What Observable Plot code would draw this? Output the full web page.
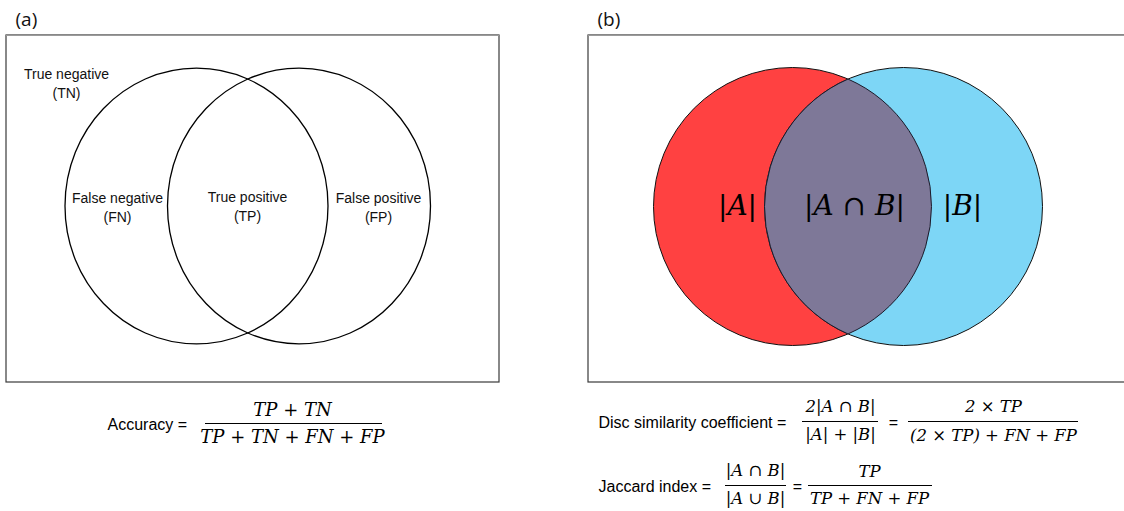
<!DOCTYPE html>
<html>
<head>
<meta charset="utf-8">
<script src="https://cdn.jsdelivr.net/npm/d3@7"></script>
<script src="https://cdn.jsdelivr.net/npm/@observablehq/plot@0.6"></script>
<style>
  body { margin: 0; background: #fff; }
</style>
</head>
<body>
<div id="chart"></div>
<script>
// ---------- data (text content) ----------
const panelLabels = ["(a)", "(b)"];
const regionLabels = ["True negative\n(TN)", "False negative\n(FN)", "True positive\n(TP)", "False positive\n(FP)"];
const setNames = ["A", "B"];
const setColors = ["#ff4141", "#7dd6f6"];
const overlapColor = "#7e7898";
const setLabels = ["|A|", "|A ∩ B|", "|B|"];
const accuracyText = ["Accuracy =", "TP + TN", "TP + TN + FN + FP"];
const diceText = ["Disc similarity coefficient =", "2|A ∩ B|", "|A| + |B|", "=", "2 × TP", "(2 × TP) + FN + FP"];
const jaccardText = ["Jaccard index =", "|A ∩ B|", "|A ∪ B|", "=", "TP", "TP + FN + FP"];

// ---------- layout (pixel geometry of the diagram) ----------
const L = {
  frames: [{x1: 6, x2: 499, y1: 35, y2: 382}, {x1: 588, x2: 1130, y1: 35, y2: 382}],
  panelPos: [{x: 15, y: 19}, {x: 597, y: 19}],
  a: {cx: [196, 298.5], cy: 205.5, rx: 131.5, ry: 137.8},
  regionPos: [{x: 66, y: 82}, {x: 117, y: 206}, {x: 247, y: 205}, {x: 378, y: 206}],
  b: {cx: [792, 903], cy: 206, r: 139},
  setLabelPos: [{x: 737}, {x: 854}, {x: 962}],
  acc: {name: {x: 107, y: 424}, num: {x: 292, y: 410}, den: {x: 292, y: 437}, bar: {x1: 205, x2: 382, y: 423}},
  dice: {name: {x: 598, y: 422}, num1: {x: 840, y: 406}, den1: {x: 840, y: 434}, bar1: {x1: 802, x2: 878, y: 421},
         eq: {x: 893, y: 422}, num2: {x: 993, y: 406}, den2: {x: 993, y: 435}, bar2: {x1: 908, x2: 1078, y: 421}},
  jac: {name: {x: 598, y: 486}, num1: {x: 755, y: 470}, den1: {x: 755, y: 498}, bar1: {x1: 725, x2: 786, y: 485},
        eq: {x: 797, y: 486}, num2: {x: 869, y: 471}, den2: {x: 869, y: 498}, bar2: {x1: 808, x2: 932, y: 485}}
};

// custom symbols
const K = 0.5522847;
const ellipseSymbol = {
  draw(ctx) {
    const rx = L.a.rx, ry = L.a.ry;
    ctx.moveTo(rx, 0);
    ctx.bezierCurveTo(rx, ry * K, rx * K, ry, 0, ry);
    ctx.bezierCurveTo(-rx * K, ry, -rx, ry * K, -rx, 0);
    ctx.bezierCurveTo(-rx, -ry * K, -rx * K, -ry, 0, -ry);
    ctx.bezierCurveTo(rx * K, -ry, rx, -ry * K, rx, 0);
    ctx.closePath();
  }
};
const lensSymbol = {
  draw(ctx) {
    const R = L.b.r, d = (L.b.cx[1] - L.b.cx[0]) / 2;
    const h = Math.sqrt(R * R - d * d);
    const t = Math.atan2(h, d);
    ctx.moveTo(0, -h);
    ctx.arc(d, 0, R, -(Math.PI - t), Math.PI - t, true);
    ctx.arc(-d, 0, R, t, -t, true);
    ctx.closePath();
  }
};

// build tables
const regions = regionLabels.map((t, i) => ({text: t, ...L.regionPos[i]}));
const panels = panelLabels.map((t, i) => ({text: t, ...L.panelPos[i]}));
const sets = setLabels.map((t, i) => ({text: t, x: L.setLabelPos[i].x, y: L.b.cy}));

const sansParts = [
  {text: accuracyText[0], ...L.acc.name},
  {text: diceText[0], ...L.dice.name},
  {text: jaccardText[0], ...L.jac.name}
];
const eqParts = [
  {text: diceText[3], ...L.dice.eq},
  {text: jaccardText[3], ...L.jac.eq}
];
const mathLarge = [
  {text: accuracyText[1], ...L.acc.num},
  {text: accuracyText[2], ...L.acc.den}
];
const mathSmall = [
  {text: diceText[1], ...L.dice.num1}, {text: diceText[2], ...L.dice.den1},
  {text: diceText[4], ...L.dice.num2}, {text: diceText[5], ...L.dice.den2},
  {text: jaccardText[1], ...L.jac.num1}, {text: jaccardText[2], ...L.jac.den1},
  {text: jaccardText[4], ...L.jac.num2}, {text: jaccardText[5], ...L.jac.den2}
];
const bars = [L.acc.bar, L.dice.bar1, L.dice.bar2, L.jac.bar1, L.jac.bar2];

const mathFont = "DejaVu Serif";

const chart = Plot.plot({
  width: 1124,
  height: 511,
  margin: 0,
  x: {domain: [0, 1124], range: [0, 1124], axis: null},
  y: {domain: [0, 511], range: [0, 511], axis: null},
  color: {type: "identity"},
  style: {background: "white"},
  marks: [
    // panel frames
    Plot.rect(L.frames, {x1: "x1", x2: "x2", y1: "y1", y2: "y2", fill: "none", stroke: "#3a3a3a", strokeWidth: 1.2}),
    Plot.ruleY(L.frames, {y: "y1", x1: "x1", x2: "x2", stroke: "#9a9a9a", strokeWidth: 1.2}),
    // panel labels
    Plot.text(panels, {x: "x", y: "y", text: "text", textAnchor: "start", fontFamily: "Open Sans", fontSize: 19, fill: "#111"}),
    // (a) Venn outlines
    Plot.dot(setNames, {x: (d, i) => L.a.cx[i], y: () => L.a.cy, r: L.a.rx, symbol: ellipseSymbol, fill: "none", stroke: "#000", strokeWidth: 1.3}),
    Plot.text(regions, {x: "x", y: "y", text: "text", fontFamily: "Liberation Sans", fontSize: 14, lineHeight: 1.32, fill: "#111"}),
    // (b) coloured Venn
    Plot.dot(setNames, {x: (d, i) => L.b.cx[i], y: () => L.b.cy, r: L.b.r, fill: (d, i) => setColors[i], stroke: "#111", strokeWidth: 1}),
    Plot.dot(["A∩B"], {x: () => (L.b.cx[0] + L.b.cx[1]) / 2, y: () => L.b.cy, r: L.b.r, symbol: lensSymbol, fill: overlapColor, stroke: "#1a1a2a", strokeWidth: 1}),
    Plot.text(sets, {x: "x", y: "y", text: "text", fontFamily: mathFont, fontStyle: "italic", fontSize: 28, fill: "#000"}),
    // formulas
    Plot.ruleY(bars, {y: "y", x1: "x1", x2: "x2", stroke: "#000", strokeWidth: 1.2}),
    Plot.text(sansParts, {x: "x", y: "y", text: "text", textAnchor: "start", fontFamily: "Liberation Sans", fontSize: 16, fill: "#000"}),
    Plot.text(eqParts, {x: "x", y: "y", text: "text", fontFamily: "Liberation Sans", fontSize: 16, fill: "#000"}),
    Plot.text(mathLarge, {x: "x", y: "y", text: "text", fontFamily: mathFont, fontStyle: "italic", fontSize: 18, fill: "#000"}),
    Plot.text(mathSmall, {x: "x", y: "y", text: "text", fontFamily: mathFont, fontStyle: "italic", fontSize: 16.5, fill: "#000"})
  ]
});
document.getElementById("chart").append(chart);
</script>
</body>
</html>
